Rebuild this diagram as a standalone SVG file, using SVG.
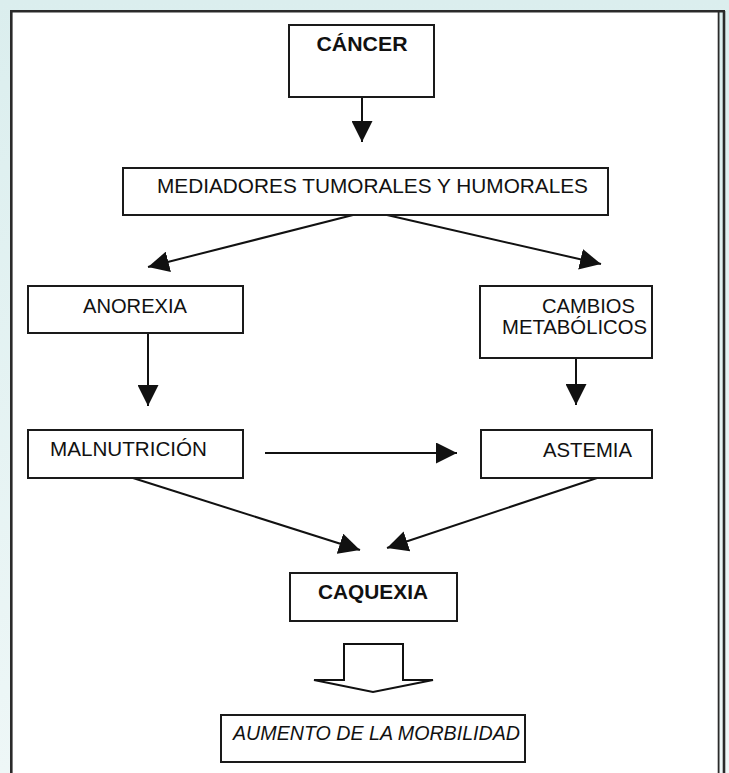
<svg xmlns="http://www.w3.org/2000/svg" width="729" height="773" viewBox="0 0 729 773">
<defs>
<linearGradient id="bg" x1="0" y1="0" x2="0" y2="1">
<stop offset="0" stop-color="#dbeeee"/>
<stop offset="1" stop-color="#eef7f7"/>
</linearGradient>
<marker id="ah" viewBox="0 0 20 20" refX="20" refY="10" markerWidth="21" markerHeight="21" markerUnits="userSpaceOnUse" orient="auto">
<path d="M0,0 L20,10 L0,20 Z" fill="#111"/>
</marker>
<style>
.box{fill:#fff;stroke:#1a1a1a;stroke-width:2}
.t{font-family:"Liberation Sans",Arial,Helvetica,sans-serif;font-size:21px;fill:#111}
.b{font-weight:bold}
.i{font-style:italic}
.c{stroke:#111;stroke-width:2;fill:none}
</style>
</defs>
<rect x="0" y="0" width="729" height="773" fill="url(#bg)"/>
<rect x="11" y="11" width="708" height="770" fill="#fff"/>
<g id="frame" fill="none" stroke="#2a2a2a">
<path d="M11.3,773 V11.3 H725" stroke-width="2.6"/>
<path d="M718.6,12 V773" stroke-width="1.8"/>
<path d="M724,11 V773" stroke-width="2.6"/>
</g>
<g id="connectors">
<line class="c" x1="362" y1="97" x2="362" y2="142" marker-end="url(#ah)"/>
<line class="c" x1="353" y1="215" x2="148" y2="267" marker-end="url(#ah)"/>
<line class="c" x1="387" y1="215" x2="601" y2="264" marker-end="url(#ah)"/>
<line class="c" x1="148" y1="333" x2="148" y2="406" marker-end="url(#ah)"/>
<line class="c" x1="576" y1="358" x2="576" y2="405" marker-end="url(#ah)"/>
<line class="c" x1="265" y1="453" x2="457" y2="453" marker-end="url(#ah)"/>
<line class="c" x1="133" y1="478" x2="360" y2="550" marker-end="url(#ah)"/>
<line class="c" x1="597" y1="478" x2="387" y2="548" marker-end="url(#ah)"/>
<path id="hollow-arrow" d="M344,644 H403 V680 H433 L373,692 L314,680 H344 Z" fill="#fff" stroke="#111" stroke-width="2" stroke-linejoin="miter"/>
</g>
<g id="cancer">
<rect class="box" x="289" y="25" width="145" height="72"/>
<text class="t b" x="362" y="51" text-anchor="middle" textLength="91" lengthAdjust="spacingAndGlyphs">CÁNCER</text>
</g>
<g id="mediadores">
<rect class="box" x="123" y="168" width="485" height="47"/>
<text class="t" x="372.5" y="193" text-anchor="middle" textLength="431" lengthAdjust="spacingAndGlyphs">MEDIADORES TUMORALES Y HUMORALES</text>
</g>
<g id="anorexia">
<rect class="box" x="28" y="286" width="215" height="47"/>
<text class="t" x="135" y="313" text-anchor="middle" textLength="104" lengthAdjust="spacingAndGlyphs">ANOREXIA</text>
</g>
<g id="cambios">
<rect class="box" x="480" y="286" width="172" height="72"/>
<text class="t" x="588.5" y="313" text-anchor="middle" textLength="93" lengthAdjust="spacingAndGlyphs">CAMBIOS</text>
<text class="t" x="574.5" y="334" text-anchor="middle" textLength="145" lengthAdjust="spacingAndGlyphs">METABÓLICOS</text>
</g>
<g id="malnutricion">
<rect class="box" x="28" y="430" width="215" height="48"/>
<text class="t" x="50" y="456" textLength="157" lengthAdjust="spacingAndGlyphs">MALNUTRICIÓN</text>
</g>
<g id="astemia">
<rect class="box" x="481" y="430" width="171" height="48"/>
<text class="t" x="543" y="457" textLength="89" lengthAdjust="spacingAndGlyphs">ASTEMIA</text>
</g>
<g id="caquexia">
<rect class="box" x="290" y="573" width="167" height="48"/>
<text class="t b" x="373" y="599" text-anchor="middle" textLength="110" lengthAdjust="spacingAndGlyphs">CAQUEXIA</text>
</g>
<g id="aumento">
<rect class="box" x="221" y="715" width="304" height="47"/>
<text class="t i" x="233" y="740" textLength="287" lengthAdjust="spacingAndGlyphs">AUMENTO DE LA MORBILIDAD</text>
</g>
</svg>
